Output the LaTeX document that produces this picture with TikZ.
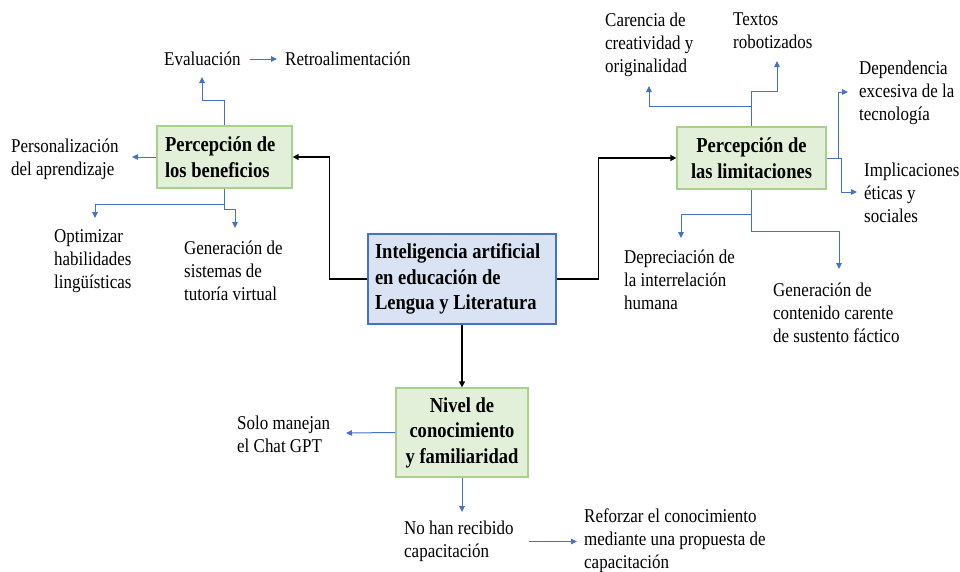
\documentclass[tikz,border=0pt]{standalone}
\usepackage{fontspec}
\setmainfont{Liberation Serif}[FakeStretch=0.87]
\usetikzlibrary{arrows.meta}
\definecolor{boxgreen}{HTML}{E2F0D9}
\definecolor{linegreen}{HTML}{A9D18E}
\definecolor{boxblue}{HTML}{DAE3F3}
\definecolor{lineblue}{HTML}{4472C4}

\begin{document}
\begin{tikzpicture}[x=1pt, y=-1pt,
    topicbox/.style={draw=linegreen, fill=boxgreen, line width=1.3pt, inner ysep=0pt,
      font=\fontsize{21.3}{25.5}\selectfont\bfseries},
    mainbox/.style={topicbox, draw=lineblue, fill=boxblue},
    itemtext/.style={anchor=west, align=flush left, inner sep=0pt,
      font=\fontsize{19.5}{23}\selectfont},
    bluearrow/.style={draw=lineblue, line width=1pt, -{Triangle[length=6pt,width=5.5pt]}},
    blackarrow/.style={draw=black, line width=1.6pt, -{Triangle[length=6pt,width=6pt]}}]
  \useasboundingbox (0,0) rectangle (960,571);

  % the four boxes
  \node[mainbox, minimum height=90pt, inner xsep=7pt, text width=174pt, align=flush left]
    (centro) at (462,279) {Inteligencia artificial\\en educación de\\Lengua y Literatura};
  \node[topicbox, minimum height=62pt, inner xsep=8pt, text width=119pt, align=flush left]
    (benef) at (224.5,157) {Percepción de\\los beneficios};
  \node[topicbox, minimum height=62pt, inner xsep=7pt, text width=135pt, align=flush center]
    (limit) at (751.5,158) {Percepción de\\las limitaciones};
  \node[topicbox, minimum height=89pt, inner xsep=6pt, text width=120pt, align=flush center]
    (nivel) at (462,432.5) {Nivel de\\conocimiento\\y familiaridad};

  \draw[blackarrow] (centro.west) -- ++(-38,0) |- (benef.east);
  \draw[blackarrow] (centro.east) -- ++(42,0) |- (limit.west);
  \draw[blackarrow] (centro.south) -- (nivel.north);

  % beneficios
  \node[itemtext] (eval) at (164,59) {Evaluación};
  \node[itemtext] (retro) at (285,59) {Retroalimentación};
  \node[itemtext] (perso) at (11,159) {Personalización\\del aprendizaje};
  \node[itemtext] (optim) at (54,261) {Optimizar\\habilidades\\lingüísticas};
  \node[itemtext] (tutor) at (184,271) {Generación de\\sistemas de\\tutoría virtual};

  \coordinate (evalTip) at (202,77);
  \coordinate (persoTip) at (132,157);
  \coordinate (optimTip) at (95,218);
  \coordinate (tutorTip) at (235,228);

  \draw[bluearrow] (benef.north) -- ++(0,-25) -| (evalTip);
  \draw[bluearrow, shorten <=9pt, shorten >=8pt] (eval.east) -- (retro.west);
  \draw[bluearrow] (benef.west) -- (persoTip);
  \draw[bluearrow] (benef.south) -- ++(0,16) -| (optimTip);
  \draw[bluearrow] (benef.south) -- ++(0,21) -| (tutorTip);

  % limitaciones
  \node[itemtext] (carenc) at (605,45) {Carencia de\\creatividad y\\originalidad};
  \node[itemtext] (textos) at (733,30.5) {Textos\\robotizados};
  \node[itemtext] (depend) at (859,93) {Dependencia\\excesiva de la\\tecnología};
  \node[itemtext] (implic) at (864,193) {Implicaciones\\éticas y\\sociales};
  \node[itemtext] (deprec) at (624,280) {Depreciación de\\la interrelación\\humana};
  \node[itemtext] (sustento) at (773,313) {Generación de\\contenido carente\\de sustento fáctico};

  \coordinate (carencTip) at (649,86);
  \coordinate (textosTip) at (777,61);
  \coordinate (dependTip) at (848,92);
  \coordinate (implicTip) at (857,192);
  \coordinate (deprecTip) at (681,238);
  \coordinate (sustentoTip) at (839,269);

  \draw[bluearrow] (limit.north) -- ++(0,-20) -| (carencTip);
  \draw[bluearrow] (limit.north) -- ++(0,-35) -| (textosTip);
  \draw[bluearrow] (limit.east) -- ++(12,0) |- (dependTip);
  \draw[bluearrow] (limit.east) -- ++(15,0) |- (implicTip);
  \draw[bluearrow] (limit.south) -- ++(0,25) -| (deprecTip);
  \draw[bluearrow] (limit.south) -- ++(0,42) -| (sustentoTip);

  % nivel de conocimiento
  \node[itemtext] (solo) at (237,434) {Solo manejan\\el Chat GPT};
  \node[itemtext] (nohan) at (404,541.5) {No han recibido\\capacitación};
  \node[itemtext] (reforzar) at (584,541) {Reforzar el conocimiento\\mediante una propuesta de\\capacitación};

  \coordinate (soloTip) at (346,433);
  \coordinate (nohanTip) at (462,512);

  \draw[bluearrow] (nivel.west) -- (soloTip);
  \draw[bluearrow] (nivel.south) -- (nohanTip);
  \draw[bluearrow, shorten >=7pt] ([xshift=15pt]nohan.east) -- (nohan.east -| reforzar.west);
\end{tikzpicture}
\end{document}
